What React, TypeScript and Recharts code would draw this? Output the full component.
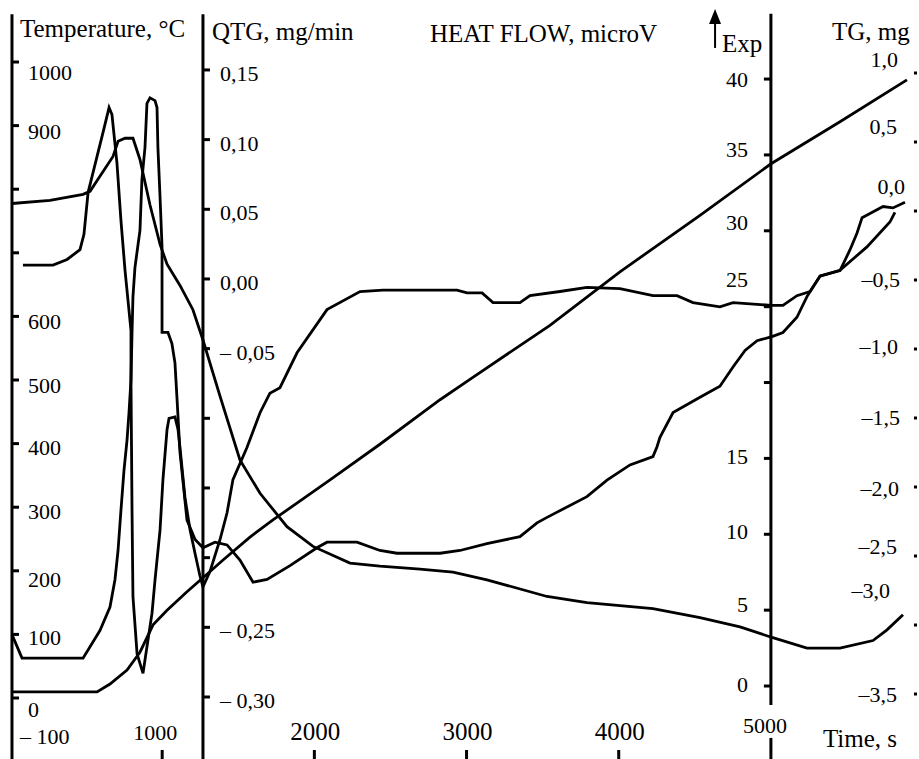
import { LineChart, Line, XAxis, YAxis, ReferenceLine } from "recharts";

const FONT = "'Liberation Serif', 'Times New Roman', serif";

// [time s, value]
const temperatureCurve = [
  [13, 9.5], [572, 9.5], [657, 22], [769, 44], [854, 72], [940, 115], [1032, 138],
  [1163, 167], [1268, 189], [1400, 217], [1577, 253], [1728, 280], [2103, 343],
  [2431, 399], [2826, 469], [3003, 498], [3548, 586], [4008, 670], [4534, 759],
  [5001, 840], [5454, 906], [5894, 972],
];

const heatFlowCurve = [
  [13, 31.8], [263, 32.0], [480, 32.4], [526, 32.6], [591, 33.6], [677, 34.9],
  [710, 35.9], [756, 36.1], [808, 36.1], [854, 34.7], [920, 31.7], [986, 29.1],
  [1032, 27.8], [1117, 26.4], [1202, 24.8], [1268, 22.8], [1380, 19.1], [1511, 14.9],
  [1643, 12.7], [1820, 10.5], [1991, 9.2], [2234, 8.1], [2431, 7.9], [2694, 7.7],
  [2911, 7.5], [3134, 7.0], [3529, 5.9], [3791, 5.5], [4225, 5.1], [4534, 4.5],
  [4797, 3.9], [5007, 3.2], [5237, 2.5], [5454, 2.5], [5671, 3.0], [5763, 3.7],
  [5868, 4.7],
];

const qtgCurve = [
  [85, 0.010], [283, 0.010], [375, 0.014], [460, 0.021], [486, 0.032], [513, 0.062],
  [572, 0.088], [611, 0.105], [651, 0.123], [670, 0.118], [703, 0.083], [729, 0.042],
  [756, 0.006], [775, -0.015], [795, -0.037], [795, -0.073], [802, -0.168],
  [808, -0.228], [835, -0.269], [874, -0.283], [900, -0.264], [933, -0.240],
  [953, -0.216], [986, -0.180], [1005, -0.144], [1032, -0.108], [1045, -0.100],
  [1084, -0.099], [1104, -0.108], [1117, -0.121], [1150, -0.157], [1183, -0.180],
  [1216, -0.197], [1248, -0.213], [1268, -0.221], [1314, -0.210], [1380, -0.187],
  [1426, -0.168], [1465, -0.144], [1557, -0.121], [1643, -0.096], [1708, -0.082],
  [1774, -0.078], [1886, -0.053], [2083, -0.022], [2300, -0.009], [2451, -0.008],
  [2937, -0.008], [3003, -0.010], [3102, -0.010], [3174, -0.017], [3351, -0.017],
  [3417, -0.012], [3614, -0.009], [3791, -0.006], [4008, -0.007], [4225, -0.012],
  [4383, -0.012], [4488, -0.017], [4665, -0.020], [4751, -0.017], [5007, -0.019],
  [5079, -0.019], [5171, -0.012], [5257, -0.009], [5323, 0.002], [5454, 0.006],
  [5520, 0.021], [5566, 0.033], [5599, 0.044], [5651, 0.047], [5737, 0.052],
  [5802, 0.051], [5881, 0.055],
];

const tgCurve = [
  [13, -3.07], [79, -3.24], [480, -3.24], [591, -3.04], [657, -2.87], [690, -2.67],
  [710, -2.46], [729, -2.17], [749, -1.88], [769, -1.66], [782, -1.46], [795, -1.22],
  [802, -0.88], [808, -0.62], [821, -0.41], [854, -0.14], [867, 0.23], [887, 0.46],
  [900, 0.78], [920, 0.82], [953, 0.80], [966, 0.75], [972, 0.46], [986, 0.10],
  [999, -0.26], [999, -0.88], [1038, -0.88], [1064, -0.96], [1084, -1.10],
  [1097, -1.35], [1104, -1.49], [1117, -1.75], [1163, -2.24], [1216, -2.38],
  [1268, -2.44], [1347, -2.40], [1426, -2.42], [1511, -2.53], [1597, -2.69],
  [1689, -2.67], [1840, -2.57], [2017, -2.44], [2083, -2.40], [2280, -2.40],
  [2431, -2.46], [2543, -2.48], [2826, -2.48], [2957, -2.46], [3134, -2.41],
  [3351, -2.36], [3463, -2.26], [3529, -2.22], [3791, -2.07], [3923, -1.95],
  [4074, -1.84], [4225, -1.78], [4251, -1.71], [4271, -1.64], [4357, -1.46],
  [4534, -1.35], [4665, -1.27], [4751, -1.13], [4830, -1.01], [4909, -0.94],
  [5007, -0.91], [5079, -0.88], [5171, -0.77], [5237, -0.62], [5323, -0.47],
  [5454, -0.43], [5631, -0.26], [5782, -0.08], [5815, -0.01],
];

// axis ticks and labels
const tempTicks = [0, 100, 200, 300, 400, 500, 600, 700, 800, 900, 1000];
const tempLabels = ["0", "100", "200", "300", "400", "500", "600", "", "", "900", "1000"];
const qtgTicks = [0.15, 0.1, 0.05, 0, -0.05, -0.1, -0.15, -0.2, -0.25, -0.3];
const qtgLabels = ["0,15", "0,10", "0,05", "0,00", "– 0,05", "", "", "", "– 0,25", "– 0,30"];
const heatTicks = [0, 5, 10, 15, 20, 25, 30, 35, 40];
const heatLabels = ["0", "5", "10", "15", "", "25", "30", "35", "40"];
const tgTicks = [1, 0.5, 0, -0.5, -1, -1.5, -2, -2.5, -3, -3.5];
const tgLabels = ["1,0", "0,5", "0,0", "–0,5", "–1,0", "–1,5", "–2,0", "–2,5", "–3,0", "–3,5"];
const timeTicks = [1000, 2000, 3000, 4000];
const timeLabels = ["1000", "2000", "3000", "4000"];

// scale ranges chosen so the four vertical scales line up like the figure
const timeDomain = [0, 5960];
const tempDomain = [-95.9, 1097.5];
const qtgDomain = [-0.3445, 0.2002];
const heatDomain = [-4.81, 45.21];
const tgDomain = [-3.971, 1.529];

const tempAxisAt = 13;
const qtgAxisAt = 1268;
const heatAxisAt = 5000;
const tickLen = 46;

// label nudges (px) - the printed labels sit unevenly against their ticks
const tempLabelDy = [19, 11, 16, 12, 11, 13, 13, 0, 0, 13, 18];
const heatLabelDy = [6, 2, 5, 6, 0, -20, -1, 2, 8];
const tgLabelDy = [-6, -8, -17, 7, 5, 7, 9, -2, -27, 8];
const tgLabelDx = [-16, -17, -9, -14, -16, -14, -15, -17, -24, -17];

const toData = (pts: number[][]) => pts.map(([t, v]) => ({ t, v }));

type Item = { text: string; dx: number; dy: number; size?: number; anchor?: "start" | "middle" | "end" };

const texts = (items: Item[]) => (p: any) => {
  const vb = p.viewBox;
  if (!vb) return null;
  return (
    <g>
      {items.map((it, i) => (
        <text
          key={i}
          x={vb.x + it.dx}
          y={vb.y + it.dy}
          fontSize={it.size ?? 22}
          textAnchor={it.anchor ?? "start"}
          fontFamily={FONT}
          fill="#000"
        >
          {it.text}
        </text>
      ))}
    </g>
  );
};

const arrowLabel = (p: any) => {
  const vb = p.viewBox;
  if (!vb) return null;
  const x = vb.x;
  const y = vb.y;
  return (
    <g>
      <path d={`M${x - 6},${y + 2} L${x + 6},${y + 2} L${x},${y - 13} Z`} fill="#000" />
      <text x={x + 7} y={y + 30} fontSize={25} fontFamily={FONT} fill="#000">
        Exp
      </text>
    </g>
  );
};

const curveProps = {
  type: "linear" as const,
  dataKey: "v",
  stroke: "#000",
  strokeWidth: 2.8,
  dot: false,
  activeDot: false,
  isAnimationActive: false,
};

export default function App() {
  return (
    <div style={{ position: "absolute", left: 0, top: 0, width: 919, height: 759, background: "#fff" }}>
      <LineChart width={919} height={759} margin={{ top: 0, right: 2, bottom: 0, left: 10 }}>
        <XAxis dataKey="t" type="number" domain={timeDomain} allowDataOverflow hide />
        <YAxis yAxisId="temp" type="number" domain={tempDomain} allowDataOverflow hide />
        <YAxis yAxisId="qtg" type="number" domain={qtgDomain} allowDataOverflow hide />
        <YAxis yAxisId="heat" type="number" domain={heatDomain} allowDataOverflow hide />
        <YAxis yAxisId="tg" type="number" domain={tgDomain} allowDataOverflow hide />

        {/* vertical axis lines */}
        <ReferenceLine
          yAxisId="temp"
          ifOverflow="visible"
          stroke="#000"
          strokeWidth={3}
          segment={[{ x: tempAxisAt, y: 1075 }, { x: tempAxisAt, y: tempDomain[0] }]}
          label={texts([
            { text: "Temperature, °C", dx: 8, dy: 23, size: 25 },
            { text: "– 100", dx: 8, dy: 730 },
          ])}
        />
        <ReferenceLine
          yAxisId="qtg"
          ifOverflow="visible"
          stroke="#000"
          strokeWidth={3}
          segment={[{ x: qtgAxisAt, y: 0.19 }, { x: qtgAxisAt, y: qtgDomain[0] }]}
          label={texts([
            { text: "QTG, mg/min", dx: 9, dy: 26, size: 25 },
            { text: "HEAT FLOW, microV", dx: 227, dy: 28, size: 25 },
          ])}
        />
        <ReferenceLine
          yAxisId="heat"
          ifOverflow="visible"
          stroke="#000"
          strokeWidth={3}
          segment={[{ x: heatAxisAt, y: 44.3 }, { x: heatAxisAt, y: -1.25 }]}
          label={texts([{ text: "TG, mg", dx: 61, dy: 26, size: 25 }])}
        />
        <ReferenceLine
          yAxisId="heat"
          ifOverflow="visible"
          stroke="#000"
          strokeWidth={3}
          segment={[{ x: heatAxisAt, y: -3.42 }, { x: heatAxisAt, y: heatDomain[0] }]}
          label={texts([
            { text: "5000", dx: -6, dy: -5, anchor: "middle" },
            { text: "Time, s", dx: 52, dy: 9, size: 25 },
          ])}
        />
        <ReferenceLine
          yAxisId="heat"
          ifOverflow="visible"
          stroke="#000"
          strokeWidth={2}
          segment={[{ x: 4633, y: 42.05 }, { x: 4633, y: 43.76 }]}
          label={arrowLabel}
        />

        {/* ticks */}
        {tempTicks.map((v, i) => (
          <ReferenceLine
            key={`temp${v}`}
            yAxisId="temp"
            ifOverflow="visible"
            stroke="#000"
            strokeWidth={3}
            segment={[{ x: tempAxisAt, y: v }, { x: tempAxisAt + tickLen, y: v }]}
            label={tempLabels[i] ? texts([{ text: tempLabels[i], dx: 16, dy: tempLabelDy[i] }]) : undefined}
          />
        ))}
        {qtgTicks.map((v, i) => (
          <ReferenceLine
            key={`qtg${v}`}
            yAxisId="qtg"
            ifOverflow="visible"
            stroke="#000"
            strokeWidth={3}
            segment={[{ x: qtgAxisAt, y: v }, { x: qtgAxisAt + tickLen, y: v }]}
            label={qtgLabels[i] ? texts([{ text: qtgLabels[i], dx: 17, dy: 11 }]) : undefined}
          />
        ))}
        {heatTicks.map((v, i) => (
          <ReferenceLine
            key={`heat${v}`}
            yAxisId="heat"
            ifOverflow="visible"
            stroke="#000"
            strokeWidth={3}
            segment={[{ x: heatAxisAt - tickLen, y: v }, { x: heatAxisAt, y: v }]}
            label={
              heatLabels[i]
                ? texts([{ text: heatLabels[i], dx: -16, dy: heatLabelDy[i], anchor: "end" }])
                : undefined
            }
          />
        ))}
        {tgTicks.map((v, i) => (
          <ReferenceLine
            key={`tg${v}`}
            yAxisId="tg"
            ifOverflow="visible"
            stroke="#000"
            strokeWidth={3}
            segment={[{ x: 5940, y: v }, { x: 5960, y: v }]}
            label={texts([{ text: tgLabels[i], dx: tgLabelDx[i], dy: tgLabelDy[i], anchor: "end" }])}
          />
        ))}
        {timeTicks.map((v, i) => (
          <ReferenceLine
            key={`time${v}`}
            yAxisId="temp"
            ifOverflow="visible"
            stroke="#000"
            strokeWidth={3}
            segment={[{ x: v, y: -81.7 }, { x: v, y: tempDomain[0] }]}
            label={texts([
              {
                text: timeLabels[i],
                dx: v === 1000 ? -7 : 1,
                dy: -10,
                size: v === 1000 ? 22 : 25,
                anchor: "middle",
              },
            ])}
          />
        ))}

        <Line {...curveProps} yAxisId="temp" data={toData(temperatureCurve)} />
        <Line {...curveProps} yAxisId="heat" data={toData(heatFlowCurve)} />
        <Line {...curveProps} yAxisId="qtg" data={toData(qtgCurve)} />
        <Line {...curveProps} yAxisId="tg" data={toData(tgCurve)} />
      </LineChart>
    </div>
  );
}
